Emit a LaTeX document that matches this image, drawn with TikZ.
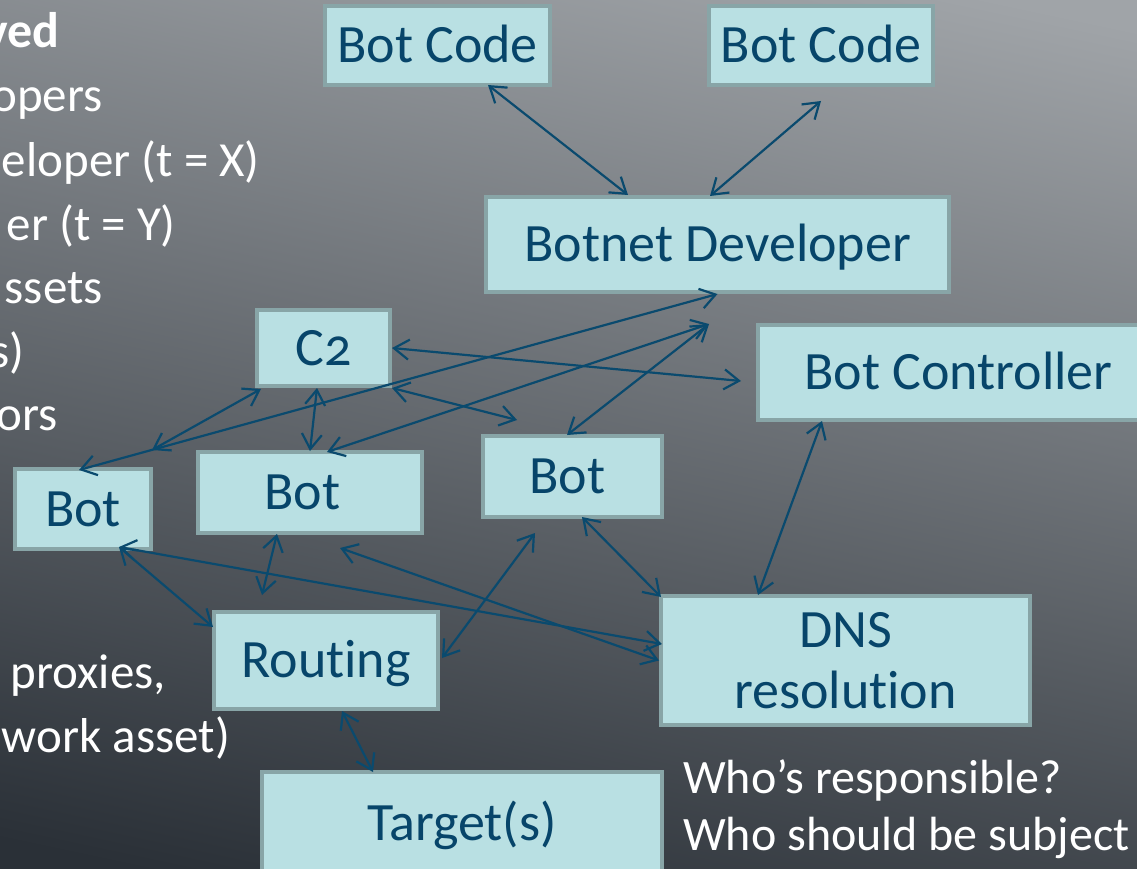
\documentclass[tikz,border=0pt]{standalone}
\usepackage{fontspec}
\setmainfont{Carlito}[Numbers=OldStyle, Ligatures=NoCommon]
\usetikzlibrary{arrows.meta,calc}
\definecolor{boxfill}{HTML}{B9E0E3}
\definecolor{boxline}{HTML}{88A5A7}
\definecolor{inkblue}{HTML}{07456A}
\definecolor{arrowblue}{HTML}{0A4A6E}
\definecolor{bgtop}{HTML}{A0A4A8}
\definecolor{bgmid}{HTML}{646A70}
\definecolor{bgbot}{HTML}{2A3037}
\begin{document}
\begin{tikzpicture}[x=1pt,y=-1pt,
  box/.style={draw=boxline, line width=4pt, fill=boxfill, text=inkblue, inner sep=0pt, font=\fontsize{54}{61}\selectfont},
  onebox/.style={box, text height=34pt, text depth=0pt},
  link/.style={draw=arrowblue, line width=2.2pt, {Straight Barb[length=15pt,width=20pt]}-{Straight Barb[length=15pt,width=20pt]}},
  side/.style={text=white, inner sep=0pt, anchor=base east, font=\fontsize{49}{56}\selectfont},
  note/.style={text=white, inner sep=0pt, anchor=base west, font=\fontsize{48}{56}\selectfont}
]
\useasboundingbox (0,0) rectangle (1137,869);
\shade[top color=bgtop, middle color=bgmid, bottom color=bgbot, shading angle=-12] (-60,-60) rectangle (1197,929);

% side texts
\node[side, font=\bfseries\fontsize{50}{56}\selectfont] (s1) at (60,48) {ved};
\node[side] (s2) at (103,112) {opers};
\node[side] (s3) at (260,177) {eloper (t = X)};
\node[side] (s4) at (176,240) {er (t = Y)};
\node[side] (s5) at (103,303) {ssets};
\node[side] (s6) at (25,367) {s)};
\node[side] (s7) at (58,430) {ors};
\node[side] (s8) at (166,688) {proxies,};
\node[side] (s9) at (230,752) {work asset)};
\node[note] (n1) at (683,793) {Who’s responsible?};
\node[note] (n2) at (683,850) {Who should be subject};

% boxes
\node[onebox, minimum width=225pt, minimum height=79pt] (bc1) at (437.5,45.5) {Bot Code};
\node[onebox, minimum width=224pt, minimum height=79pt] (bc2) at (821,45.5) {Bot Code};
\node[onebox, minimum width=463pt, minimum height=95pt] (bd) at (717.5,244.5) {Botnet Developer};
\node[onebox, minimum width=133pt, minimum height=76pt] (c2) at (323.5,348) {C2};
\node[onebox, minimum width=401pt, minimum height=95pt] (ctrl) at (958.5,372.5) {Bot Controller};
\node[onebox, minimum width=136pt, minimum height=80pt] (botL) at (83,509) {Bot};
\node[onebox, minimum width=224pt, minimum height=81pt] (botM) at (310,492.5) {\hspace*{-15pt}Bot};
\node[onebox, minimum width=179pt, minimum height=81pt] (botR) at (572.5,476.5) {\hspace*{-10pt}Bot};
\node[onebox, minimum width=224pt, minimum height=97pt] (rout) at (326,660.5) {Routing};
\node[box, minimum width=369pt, minimum height=129pt, align=center] (dns) at (845.5,660.5) {DNS\\resolution};
\node[onebox, minimum width=400pt, minimum height=102pt] (tgt) at (462,823) {Target(s)};

% connectors
\draw[link] ($(bc1.south)+(50.5,-2)$) -- ($(bd.north)+(-89.5,0)$);
\draw[link] ($(bc2.south)+(0,14)$) -- ($(bd.north)+(-7.5,1)$);
\draw[link] (bd.south) -- ($(botL.north)+(-4,3)$);
\draw[link] ($(bd.south)+(-8.5,30)$) -- ($(botM.north)+(17,2)$);
\draw[link] ($(bd.south)+(-8.5,30)$) -- ($(botR.north)+(-5.5,1)$);
\draw[link] (c2.east) -- ($(ctrl.west)+(-15,8.5)$);
\draw[link] ($(c2.south west)+(6,1)$) -- ($(botL.north east)+(-1,-17)$);
\draw[link] ($(c2.south)+(-6.5,0)$) -- ($(botM.north)+(0,1)$);
\draw[link] (c2.south east) -- ($(botR.north west)+(36,-14)$);
\draw[link] ($(ctrl.south west)+(66,-1)$) -- ($(dns.north west)+(99,1)$);
\draw[link] ($(botR.south)+(9.5,-2)$) -- ($(dns.north west)+(2,3)$);
\draw[link] ($(botR.south)+(-37.5,14)$) -- ($(rout.east)+(2,-2.5)$);
\draw[link] ($(botL.south east)+(-34,-4)$) -- ($(dns.west)+(3,-16.5)$);
\draw[link] ($(botM.south)+(30,13)$) -- (dns.west);
\draw[link] ($(botL.south east)+(-34,-4)$) -- ($(rout.north west)+(1,17)$);
\draw[link] ($(botM.south)+(-33,-1)$) -- ($(rout.north)+(-64,-15)$);
\draw[link] ($(rout.south)+(16,0)$) -- ($(tgt.north)+(-89,2)$);
\end{tikzpicture}
\end{document}
